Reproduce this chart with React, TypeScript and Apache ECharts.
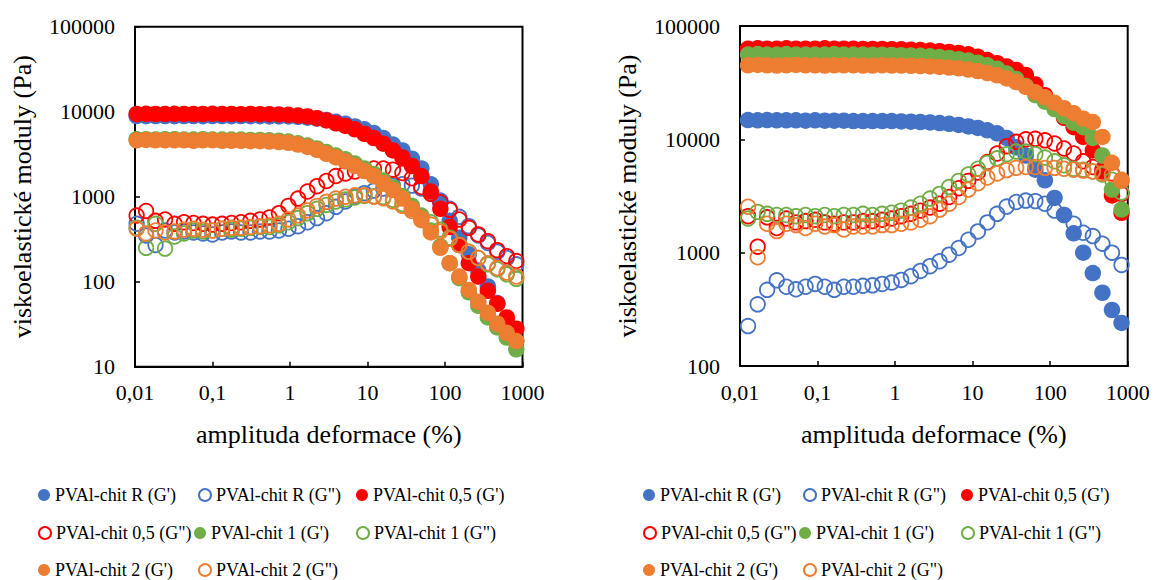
import React, { useEffect, useRef } from "react";
import * as echarts from "echarts";

// strain amplitude (%) – left panel
const strainLeft = [0.0105, 0.0139, 0.0184, 0.0244, 0.0324, 0.0429, 0.0569, 0.0754, 0.1, 0.133, 0.176, 0.233, 0.309, 0.41, 0.543, 0.72, 0.955, 1.27, 1.68, 2.23, 2.95, 3.91, 5.19, 6.88, 9.12, 12.1, 16.0, 21.3, 28.2, 37.4, 49.5, 65.7, 87.1, 115, 153, 203, 269, 357, 473, 627, 832];
// strain amplitude (%) – right panel
const strainRight = [0.0127, 0.0169, 0.0224, 0.0298, 0.0396, 0.0527, 0.07, 0.093, 0.124, 0.164, 0.218, 0.29, 0.385, 0.512, 0.681, 0.905, 1.2, 1.6, 2.12, 2.82, 3.75, 4.98, 6.62, 8.8, 11.7, 15.5, 20.7, 27.5, 36.5, 48.5, 64.4, 85.6, 114, 151, 201, 267, 355, 472, 627, 833];

// Left panel (Pa)
const rGpL = [8900, 8850, 8900, 8900, 8850, 8900, 8900, 8850, 8900, 8900, 8850, 8900, 8850, 8850, 8800, 8800, 8800, 8700, 8500, 8300, 8000, 7600, 7200, 6700, 6200, 5600, 4900, 4100, 3500, 2800, 2150, 1400, 850, 520, 330, 210, 135, 88, 56, 34, 20];
const rGppL = [480, 350, 270, 400, 380, 390, 380, 370, 360, 380, 390, 380, 380, 390, 390, 400, 420, 450, 500, 560, 640, 760, 880, 1000, 1100, 1180, 1250, 1350, 1400, 1350, 1250, 1100, 900, 720, 580, 450, 350, 285, 225, 190, 160];
const c05GpL = [9400, 9450, 9400, 9400, 9450, 9400, 9400, 9400, 9450, 9400, 9400, 9350, 9400, 9350, 9350, 9300, 9200, 9000, 8800, 8400, 7900, 7300, 6800, 6200, 5500, 4900, 4200, 3500, 2900, 2300, 1750, 1150, 720, 440, 270, 165, 115, 78, 55, 38, 28];
const c05GppL = [600, 680, 520, 540, 480, 500, 490, 480, 470, 480, 490, 500, 520, 540, 570, 640, 780, 950, 1150, 1330, 1530, 1750, 1880, 1980, 2080, 2150, 2150, 2080, 1900, 1650, 1300, 1080, 860, 700, 540, 430, 360, 300, 235, 200, 175];
const c1GpL = [4750, 4750, 4700, 4750, 4750, 4700, 4700, 4750, 4700, 4700, 4700, 4700, 4650, 4650, 4600, 4550, 4450, 4250, 4000, 3700, 3350, 3050, 2750, 2450, 2150, 1850, 1550, 1280, 1020, 780, 580, 400, 260, 165, 110, 75, 52, 38, 29, 22, 16];
const c1GppL = [430, 250, 480, 245, 340, 370, 400, 390, 400, 420, 410, 420, 430, 440, 440, 460, 500, 560, 640, 720, 800, 880, 930, 980, 1020, 1010, 990, 920, 820, 720, 600, 500, 410, 330, 270, 225, 190, 160, 140, 122, 108];
const c2GpL = [4600, 4650, 4600, 4600, 4600, 4600, 4550, 4600, 4600, 4550, 4550, 4550, 4500, 4500, 4450, 4400, 4300, 4100, 3850, 3550, 3200, 2900, 2600, 2300, 2000, 1750, 1450, 1200, 950, 720, 530, 380, 250, 165, 115, 80, 58, 43, 32, 25, 20];
const c2GppL = [420, 370, 400, 380, 390, 410, 420, 410, 400, 420, 430, 430, 440, 450, 460, 480, 540, 600, 690, 780, 870, 950, 1000, 1040, 1040, 1000, 960, 880, 780, 680, 560, 470, 390, 320, 270, 225, 190, 165, 145, 128, 115];

// Right panel (Pa)
const rGpR = [14800, 14700, 14800, 14700, 14700, 14700, 14600, 14700, 14600, 14600, 14600, 14500, 14500, 14500, 14500, 14500, 14400, 14300, 14200, 14100, 13900, 13700, 13400, 13000, 12600, 12000, 11300, 10300, 8500, 7200, 5400, 4350, 3040, 2150, 1480, 1000, 660, 443, 312, 240];
const rGppR = [225, 350, 470, 570, 500, 475, 500, 530, 500, 470, 500, 500, 510, 515, 530, 545, 575, 620, 690, 760, 840, 960, 1100, 1300, 1540, 1850, 2200, 2550, 2800, 2880, 2850, 2700, 2350, 2150, 1800, 1500, 1400, 1200, 1000, 780];
const c05GpR = [63000, 63500, 63000, 63000, 63500, 63000, 63000, 63000, 63500, 63000, 63000, 63000, 62800, 62800, 62800, 62500, 62200, 61800, 61300, 60700, 60000, 59000, 57800, 56300, 53500, 50000, 47000, 44000, 41000, 37000, 30500, 24500, 19500, 15500, 12800, 10500, 8000, 5200, 3200, 2250];
const c05GppR = [2100, 1130, 2050, 1650, 2000, 1850, 1900, 1950, 1850, 1800, 1850, 1850, 1900, 1900, 1950, 2000, 2100, 2200, 2350, 2500, 2700, 3100, 3700, 4300, 5100, 6300, 7500, 8700, 9500, 10000, 10100, 9800, 9200, 8300, 7500, 6400, 5700, 5400, 5000, 3300];
const c1GpR = [56000, 56500, 56000, 56000, 56500, 56000, 56000, 56000, 56000, 56500, 56000, 56000, 56000, 55800, 55800, 55600, 55300, 55000, 54500, 54000, 53200, 52200, 51000, 49500, 47500, 45000, 42000, 38000, 34000, 29500, 24500, 21500, 18500, 16000, 14000, 12800, 10300, 7200, 3600, 2400];
const c1GppR = [2000, 2290, 2200, 2150, 2150, 2100, 2150, 2100, 2150, 2100, 2150, 2150, 2200, 2150, 2200, 2250, 2350, 2500, 2700, 3000, 3300, 3800, 4300, 4900, 5500, 6200, 6800, 7400, 7800, 7800, 7400, 6900, 6400, 5900, 5500, 5400, 5200, 4900, 4400, 3400];
const c2GpR = [45000, 45300, 45000, 44800, 45000, 45300, 45000, 45000, 44800, 45000, 45000, 45000, 44800, 44800, 45000, 44800, 44800, 44600, 44300, 44000, 43500, 43000, 42300, 41300, 40000, 38500, 36700, 34500, 32000, 29000, 26000, 23500, 21000, 18800, 17000, 15200, 14200, 10500, 6200, 4300];
const c2GppR = [2540, 910, 1800, 1550, 1800, 1750, 1650, 1800, 1700, 1750, 1600, 1700, 1700, 1700, 1750, 1750, 1800, 1850, 1950, 2100, 2400, 2700, 3100, 3600, 4100, 4600, 5000, 5350, 5600, 5700, 5700, 5600, 5600, 5500, 5400, 5300, 5200, 5000, 4900, 4400];

const seriesNames = [
  "PVAl-chit R (G')",
  'PVAl-chit R (G")',
  "PVAl-chit 0,5 (G')",
  'PVAl-chit 0,5 (G")',
  "PVAl-chit 1 (G')",
  'PVAl-chit 1 (G")',
  "PVAl-chit 2 (G')",
  'PVAl-chit 2 (G")',
];
const seriesColors = ["#4472C4", "#4472C4", "#FF0000", "#FF0000", "#70AD47", "#70AD47", "#ED7D31", "#ED7D31"];
const seriesFilled = [true, false, true, false, true, false, true, false];
const leftValues = [rGpL, rGppL, c05GpL, c05GppL, c1GpL, c1GppL, c2GpL, c2GppL];
const rightValues = [rGpR, rGppR, c05GpR, c05GppR, c1GpR, c1GppR, c2GpR, c2GppR];

const xTitle = "amplituda deformace (%)";
const yTitle = "viskoelastické moduly (Pa)";

const FONT = '"Times New Roman", "Liberation Serif", serif';

const fmt = (v: number) => String(Number(v.toPrecision(3))).replace(".", ",");

function buildOption() {
  const grids = [
    { left: 135, top: 26.7, width: 387.5, height: 340 },
    { left: 740, top: 26, width: 387.7, height: 340 },
  ];
  const yMins = [10, 100];
  const axisLine = { show: true, onZero: false, lineStyle: { color: "#000", width: 2 } };
  const axisTick = { show: true, inside: true, length: 5, lineStyle: { color: "#000", width: 1.5 } };
  const labelStyle = { color: "#000", fontFamily: FONT, fontSize: 22 };
  const nameStyle = { color: "#000", fontFamily: FONT, fontSize: 26 };

  const series: any[] = [];
  [leftValues, rightValues].forEach((vals, gi) => {
    const strain = gi === 0 ? strainLeft : strainRight;
    vals.forEach((arr, si) => {
      const color = seriesColors[si];
      const filled = seriesFilled[si];
      series.push({
        type: "scatter",
        name: seriesNames[si],
        xAxisIndex: gi,
        yAxisIndex: gi,
        data: strain.map((x, i) => [x, arr[i]]),
        symbol: "circle",
        symbolSize: filled ? 16.5 : 14.5,
        itemStyle: filled
          ? { color, opacity: 1 }
          : { color: "rgba(255,255,255,0)", borderColor: color, borderWidth: 1.8, opacity: 1 },
        emphasis: { disabled: true },
        silent: true,
      });
    });
  });

  // legend layout: marker left x per item, row tops
  const legendRows = [
    { top: 486, xs: [38, 198, 356], items: [0, 1, 2] },
    { top: 524, xs: [38, 194, 356], items: [3, 4, 5] },
    { top: 561, xs: [38, 198], items: [6, 7] },
  ];
  const legends: any[] = [];
  [0, 605].forEach((off) => {
    legendRows.forEach((row) => {
      row.items.forEach((si, idx) => {
        const color = seriesColors[si];
        const filled = seriesFilled[si];
        legends.push({
          left: row.xs[idx] + off,
          top: row.top,
          orient: "horizontal",
          padding: 0,
          itemWidth: 12,
          itemHeight: 12,
          selectedMode: false,
          textStyle: { color: "#000", fontFamily: FONT, fontSize: 18 },
          data: [
            {
              name: seriesNames[si],
              icon: "circle",
              itemStyle: filled
                ? { color, borderWidth: 0 }
                : { color: "#fff", borderColor: color, borderWidth: 2 },
            },
          ],
        });
      });
    });
  });

  return {
    animation: false,
    backgroundColor: "#fff",
    grid: grids.map((g) => ({ ...g, show: true, borderColor: "#000", borderWidth: 2, backgroundColor: "transparent" })),
    xAxis: [0, 1].map((gi) => ({
      gridIndex: gi,
      type: "log",
      logBase: 10,
      min: 0.01,
      max: 1000,
      name: xTitle,
      nameLocation: "middle",
      nameGap: 55,
      nameTextStyle: nameStyle,
      axisLine,
      axisTick,
      axisLabel: { ...labelStyle, margin: 15, formatter: fmt },
      splitLine: { show: false },
      minorTick: { show: false },
      minorSplitLine: { show: false },
    })),
    yAxis: [0, 1].map((gi) => ({
      gridIndex: gi,
      type: "log",
      logBase: 10,
      min: yMins[gi],
      max: 100000,
      name: yTitle,
      nameLocation: "middle",
      nameGap: 100,
      nameTextStyle: nameStyle,
      axisLine,
      axisTick,
      axisLabel: { ...labelStyle, margin: 20, formatter: fmt },
      splitLine: { show: false },
      minorTick: { show: false },
      minorSplitLine: { show: false },
    })),
    legend: legends,
    series,
  };
}

export default function App() {
  const ref = useRef<HTMLDivElement>(null);
  useEffect(() => {
    if (!ref.current) return;
    const chart = echarts.init(ref.current, undefined, { renderer: "svg" });
    chart.setOption(buildOption() as any);
    return () => chart.dispose();
  }, []);
  return (
    <div
      ref={ref}
      style={{ position: "absolute", left: 0, top: 0, width: 1154, height: 580, background: "#fff" }}
    />
  );
}
